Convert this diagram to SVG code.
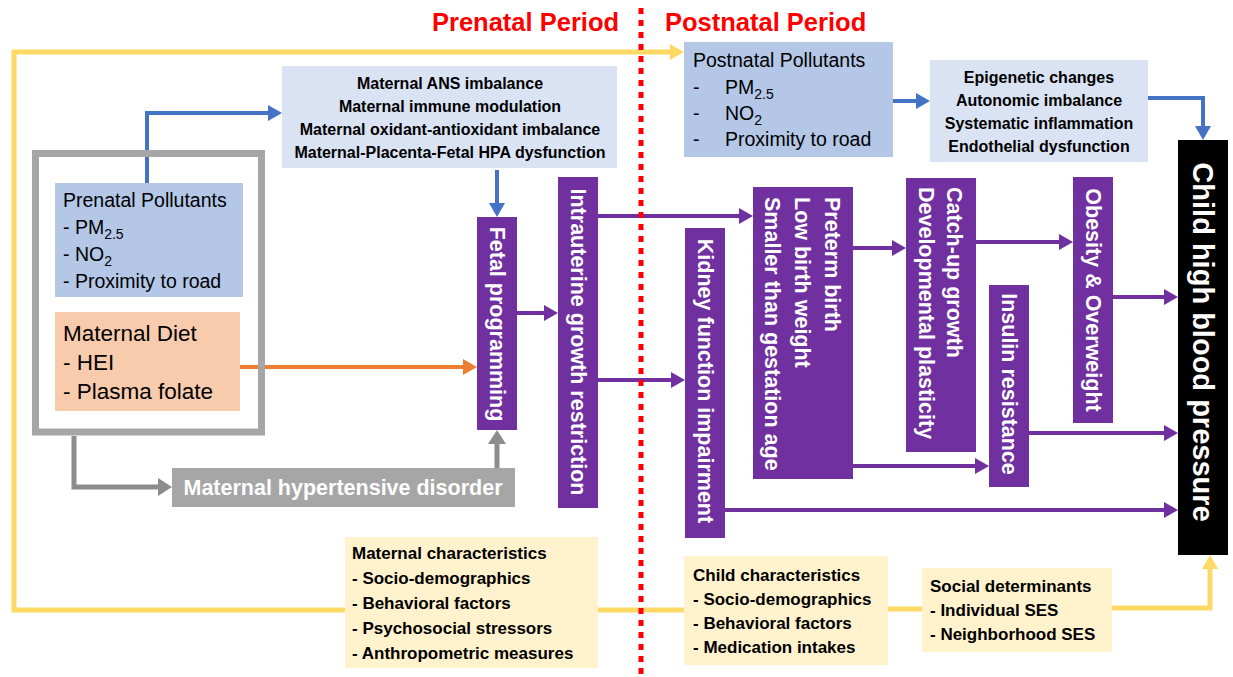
<svg xmlns="http://www.w3.org/2000/svg" width="1233" height="677" viewBox="0 0 1233 677">
<style>
text{font-family:"Liberation Sans",Arial,sans-serif;}
.title{font-size:25.5px;font-weight:bold;fill:#FF0000;}
.reg{font-size:19.5px;fill:#000;}
.diet{font-size:22.5px;fill:#000;}
.sub{font-size:14px;}
.b{font-size:16px;font-weight:bold;fill:#000;}
.b2{font-size:17px;font-weight:bold;fill:#000;}
.vt{font-size:21.5px;font-weight:bold;fill:#fff;}
.purple{fill:#7030A0;}
.conn{fill:none;stroke-width:4;}
.pu{stroke:#7030A0;}
.bl{stroke:#4472C4;}
.ye{stroke:#FFD966;stroke-width:5;}
.gr{stroke:#8C8C8C;stroke-width:5;}
.or{stroke:#ED7D31;}
</style>
<defs>
<marker id="mP" markerUnits="userSpaceOnUse" markerWidth="14" markerHeight="16" refX="0" refY="8" orient="auto"><path d="M0,0 L14,8 L0,16 z" fill="#7030A0"/></marker>
<marker id="mB" markerUnits="userSpaceOnUse" markerWidth="14" markerHeight="16" refX="0" refY="8" orient="auto"><path d="M0,0 L14,8 L0,16 z" fill="#4472C4"/></marker>
<marker id="mY" markerUnits="userSpaceOnUse" markerWidth="14" markerHeight="16" refX="0" refY="8" orient="auto"><path d="M0,0 L14,8 L0,16 z" fill="#FFD966"/></marker>
<marker id="mG" markerUnits="userSpaceOnUse" markerWidth="14" markerHeight="18" refX="0" refY="9" orient="auto"><path d="M0,0 L14,9 L0,18 z" fill="#8C8C8C"/></marker>
<marker id="mO" markerUnits="userSpaceOnUse" markerWidth="14" markerHeight="16" refX="0" refY="8" orient="auto"><path d="M0,0 L14,8 L0,16 z" fill="#ED7D31"/></marker>
</defs>
<rect width="1233" height="677" fill="#fff"/>

<g id="titles">
<text class="title" x="432" y="31">Prenatal Period</text>
<text class="title" x="665" y="31">Postnatal Period</text>
</g>

<g id="connectors">
<path class="conn ye" d="M345,610 H14 V52 H670" marker-end="url(#mY)"/>
<path class="conn ye" d="M598,610 H684"/>
<path class="conn ye" d="M888,609 H922"/>
<path class="conn ye" d="M1112,608 H1210 V569" marker-end="url(#mY)"/>
<path class="conn bl" d="M147,183 V113 H268" marker-end="url(#mB)"/>
<path class="conn bl" d="M497,170 V203" marker-end="url(#mB)"/>
<path class="conn or" d="M240,367 H463" marker-end="url(#mO)"/>
<path class="conn gr" d="M74,436 V487 H158" marker-end="url(#mG)"/>
<path class="conn gr" d="M497,468 V444" marker-end="url(#mG)"/>
<path class="conn pu" d="M517,313 H544" marker-end="url(#mP)"/>
<path class="conn pu" d="M598,216 H739" marker-end="url(#mP)"/>
<path class="conn pu" d="M598,380 H671" marker-end="url(#mP)"/>
<path class="conn pu" d="M725,510 H1164" marker-end="url(#mP)"/>
<path class="conn pu" d="M853,248 H892" marker-end="url(#mP)"/>
<path class="conn pu" d="M853,466 H975" marker-end="url(#mP)"/>
<path class="conn pu" d="M976,242 H1059" marker-end="url(#mP)"/>
<path class="conn pu" d="M1113,297 H1164" marker-end="url(#mP)"/>
<path class="conn pu" d="M1029,433 H1164" marker-end="url(#mP)"/>
<path class="conn bl" d="M893,101 H916" marker-end="url(#mB)"/>
<path class="conn bl" d="M1148,98 H1203 V126" marker-end="url(#mB)"/>
</g>

<g id="divider">
<line x1="641" y1="8" x2="641" y2="677" stroke="#FF0000" stroke-width="5" stroke-dasharray="6 6"/>
</g>

<g id="prenatal-frame">
<rect x="35.5" y="153.5" width="226" height="278.5" fill="none" stroke="#A6A6A6" stroke-width="7"/>
</g>

<g id="prenatal-pollutants">
<rect x="55" y="183" width="188" height="114" fill="#B4C7E7"/>
<text class="reg" x="63" y="207">Prenatal Pollutants</text>
<text class="reg" x="63" y="234">- PM<tspan class="sub" dy="5">2.5</tspan></text>
<text class="reg" x="63" y="261">- NO<tspan class="sub" dy="5">2</tspan></text>
<text class="reg" x="63" y="288">- Proximity to road</text>
</g>

<g id="maternal-diet">
<rect x="55" y="312" width="185" height="99" fill="#F8CBAD"/>
<text class="diet" x="63" y="341">Maternal Diet</text>
<text class="diet" x="63" y="370">- HEI</text>
<text class="diet" x="63" y="399">- Plasma folate</text>
</g>

<g id="maternal-mechanisms">
<rect x="282" y="66" width="335" height="102" fill="#DAE3F3"/>
<text class="b" x="450" y="89" text-anchor="middle">Maternal ANS imbalance</text>
<text class="b" x="450" y="112" text-anchor="middle">Maternal immune modulation</text>
<text class="b" x="450" y="135" text-anchor="middle">Maternal oxidant-antioxidant imbalance</text>
<text class="b" x="450" y="158" text-anchor="middle">Maternal-Placenta-Fetal HPA dysfunction</text>
</g>

<g id="fetal-programming">
<rect class="purple" x="477" y="217" width="40" height="213"/>
<text class="vt" transform="translate(497,324) rotate(90)" text-anchor="middle" dominant-baseline="central">Fetal programming</text>
</g>

<g id="hypertensive">
<rect x="172" y="468" width="343" height="39" fill="#A6A6A6"/>
<text x="343" y="495" text-anchor="middle" font-size="21.5" font-weight="bold" fill="#fff">Maternal hypertensive disorder</text>
</g>

<g id="iugr">
<rect class="purple" x="558" y="177" width="40" height="331"/>
<text class="vt" transform="translate(578,342) rotate(90)" text-anchor="middle" dominant-baseline="central">Intrauterine growth restriction</text>
</g>

<g id="kidney">
<rect class="purple" x="685" y="228" width="40" height="310"/>
<text class="vt" transform="translate(705,381) rotate(90)" text-anchor="middle" dominant-baseline="central">Kidney function impairment</text>
</g>

<g id="preterm">
<rect class="purple" x="753" y="187" width="100" height="292"/>
<text class="vt" transform="translate(832,197) rotate(90)" dominant-baseline="central">Preterm birth</text>
<text class="vt" transform="translate(802,197) rotate(90)" dominant-baseline="central">Low birth weight</text>
<text class="vt" transform="translate(772,197) rotate(90)" dominant-baseline="central">Smaller than gestation age</text>
</g>

<g id="catchup">
<rect class="purple" x="906" y="178" width="70" height="274"/>
<text class="vt" transform="translate(954,187) rotate(90)" dominant-baseline="central">Catch-up growth</text>
<text class="vt" transform="translate(926,187) rotate(90)" dominant-baseline="central">Developmental plasticity</text>
</g>

<g id="obesity">
<rect class="purple" x="1073" y="177" width="40" height="246"/>
<text class="vt" transform="translate(1093,300) rotate(90)" text-anchor="middle" dominant-baseline="central">Obesity &amp; Overweight</text>
</g>

<g id="insulin">
<rect class="purple" x="989" y="285" width="40" height="202"/>
<text class="vt" transform="translate(1009,384) rotate(90)" text-anchor="middle" dominant-baseline="central">Insulin resistance</text>
</g>

<g id="child-bp">
<rect x="1178" y="140" width="50" height="415" fill="#000"/>
<text transform="translate(1203,342) rotate(90)" text-anchor="middle" dominant-baseline="central" font-size="29" font-weight="bold" fill="#fff">Child high blood pressure</text>
</g>

<g id="postnatal-pollutants">
<rect x="684" y="42" width="209" height="115" fill="#B4C7E7"/>
<text class="reg" x="693" y="67">Postnatal Pollutants</text>
<text class="reg" x="693" y="94">-</text><text class="reg" x="725" y="94">PM<tspan class="sub" dy="5">2.5</tspan></text>
<text class="reg" x="693" y="120">-</text><text class="reg" x="725" y="120">NO<tspan class="sub" dy="5">2</tspan></text>
<text class="reg" x="693" y="146">-</text><text class="reg" x="725" y="146">Proximity to road</text>
</g>

<g id="postnatal-mechanisms">
<rect x="930" y="60" width="218" height="102" fill="#DAE3F3"/>
<text class="b" x="1039" y="83" text-anchor="middle">Epigenetic changes</text>
<text class="b" x="1039" y="106" text-anchor="middle">Autonomic imbalance</text>
<text class="b" x="1039" y="129" text-anchor="middle">Systematic inflammation</text>
<text class="b" x="1039" y="152" text-anchor="middle">Endothelial dysfunction</text>
</g>

<g id="maternal-characteristics">
<rect x="345" y="537" width="253" height="131" fill="#FFF2CC"/>
<text class="b2" x="352" y="559">Maternal characteristics</text>
<text class="b2" x="352" y="584">- Socio-demographics</text>
<text class="b2" x="352" y="609">- Behavioral factors</text>
<text class="b2" x="352" y="634">- Psychosocial stressors</text>
<text class="b2" x="352" y="659">- Anthropometric measures</text>
</g>

<g id="child-characteristics">
<rect x="684" y="556" width="204" height="109" fill="#FFF2CC"/>
<text class="b2" x="693" y="581">Child characteristics</text>
<text class="b2" x="693" y="605">- Socio-demographics</text>
<text class="b2" x="693" y="629">- Behavioral factors</text>
<text class="b2" x="693" y="653">- Medication intakes</text>
</g>

<g id="social-determinants">
<rect x="922" y="568" width="190" height="84" fill="#FFF2CC"/>
<text class="b2" x="930" y="592">Social determinants</text>
<text class="b2" x="930" y="616">- Individual SES</text>
<text class="b2" x="930" y="640">- Neighborhood SES</text>
</g>
</svg>
